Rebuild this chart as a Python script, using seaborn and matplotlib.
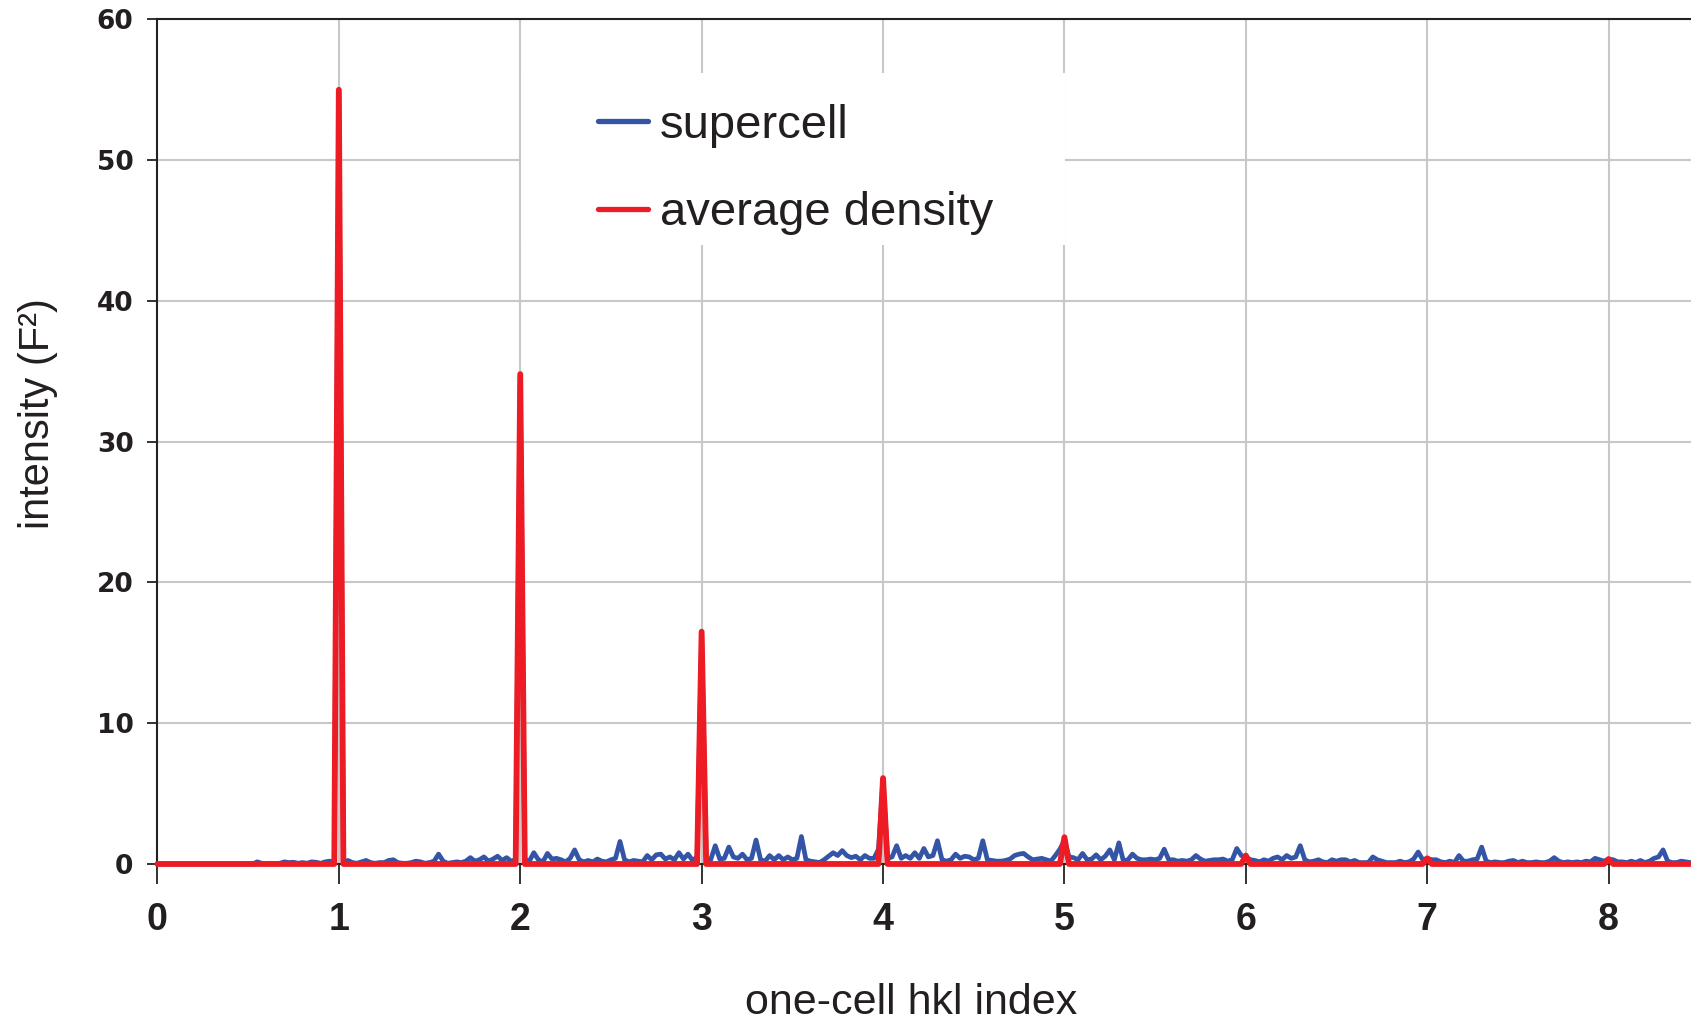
import numpy as np
import pandas as pd
import matplotlib
matplotlib.use("Agg")
import matplotlib.pyplot as plt
from matplotlib.patches import Rectangle
from matplotlib.lines import Line2D
import seaborn as sns

# ---------------- data ----------------
SAMPLES_PER_CELL = 40  # supercell sampling along the one-cell hkl index

# supercell intensity, one list per one-cell interval [n, n+1)
sc_0 = [0, 0, 0, 0, 0, 0, 0, 0, 0, 0, 0, 0, 0, 0, 0, 0, 0, 0, 0, 0,
        0, 0, 0.15, 0.05, 0, 0.05, 0, 0.05, 0.15, 0.1, 0.12, 0.05, 0.1, 0.05, 0.15, 0.12, 0.05, 0.15, 0.2, 0.1]
sc_1 = [54.8, 0.1, 0.25, 0.1, 0.05, 0.15, 0.25, 0.1, 0.05, 0.1,
        0.1, 0.25, 0.3, 0.1, 0.05, 0.05, 0.1, 0.2, 0.15, 0.05,
        0.1, 0.2, 0.7, 0.2, 0.05, 0.1, 0.15, 0.1, 0.2, 0.45,
        0.2, 0.3, 0.5, 0.2, 0.35, 0.55, 0.25, 0.45, 0.2, 0.3]
sc_2 = [34.5, 0.3, 0.2, 0.8, 0.3, 0.15, 0.75, 0.35, 0.4, 0.3,
        0.15, 0.4, 1.0, 0.3, 0.15, 0.25, 0.15, 0.35, 0.2, 0.15,
        0.3, 0.4, 1.6, 0.3, 0.15, 0.25, 0.2, 0.15, 0.6, 0.3,
        0.65, 0.7, 0.35, 0.5, 0.3, 0.8, 0.35, 0.7, 0.25, 0.5]
sc_3 = [16.3, 0.4, 0.3, 1.3, 0.35, 0.4, 1.2, 0.5, 0.4, 0.7,
        0.3, 0.4, 1.7, 0.3, 0.2, 0.6, 0.3, 0.6, 0.3, 0.5,
        0.3, 0.4, 1.95, 0.3, 0.2, 0.15, 0.1, 0.3, 0.55, 0.8,
        0.6, 0.95, 0.6, 0.45, 0.55, 0.3, 0.6, 0.4, 0.4, 1.05]
sc_4 = [6.0, 0.4, 0.5, 1.3, 0.4, 0.6, 0.4, 0.8, 0.4, 1.1,
        0.5, 0.6, 1.65, 0.3, 0.2, 0.3, 0.7, 0.4, 0.55, 0.5,
        0.3, 0.4, 1.65, 0.3, 0.25, 0.2, 0.2, 0.25, 0.35, 0.6,
        0.7, 0.75, 0.5, 0.3, 0.35, 0.4, 0.3, 0.2, 0.6, 1.05]
sc_5 = [1.7, 0.5, 0.45, 0.3, 0.75, 0.3, 0.35, 0.65, 0.3, 0.55,
        1.0, 0.3, 1.5, 0.2, 0.3, 0.7, 0.4, 0.3, 0.3, 0.35,
        0.3, 0.4, 1.05, 0.3, 0.3, 0.2, 0.25, 0.2, 0.3, 0.6,
        0.35, 0.2, 0.25, 0.3, 0.3, 0.35, 0.2, 0.3, 1.1, 0.6]
sc_6 = [0.5, 0.3, 0.25, 0.15, 0.3, 0.2, 0.4, 0.5, 0.3, 0.6,
        0.4, 0.5, 1.3, 0.3, 0.15, 0.2, 0.3, 0.15, 0.1, 0.3,
        0.2, 0.3, 0.3, 0.15, 0.25, 0.1, 0.1, 0.1, 0.5, 0.3,
        0.2, 0.1, 0.1, 0.1, 0.2, 0.1, 0.15, 0.35, 0.85, 0.3]
sc_7 = [0.4, 0.3, 0.3, 0.15, 0.1, 0.2, 0.1, 0.6, 0.2, 0.2,
        0.3, 0.35, 1.2, 0.2, 0.1, 0.15, 0.1, 0.1, 0.2, 0.25,
        0.1, 0.2, 0.1, 0.1, 0.15, 0.1, 0.1, 0.2, 0.45, 0.2,
        0.1, 0.15, 0.1, 0.15, 0.1, 0.2, 0.15, 0.4, 0.3, 0.2]
sc_8 = [0.35, 0.3, 0.15, 0.15, 0.1, 0.2, 0.1, 0.25, 0.1, 0.2,
        0.4, 0.5, 1.0, 0.2, 0.1, 0.1, 0.2, 0.15, 0.1]

# average-density structure: intensity only at the integer (Bragg) positions
bragg_h = [0, 1, 2, 3, 4, 5, 6, 7, 8]
bragg_I = [0.0, 55.0, 34.8, 16.5, 6.1, 1.9, 0.6, 0.4, 0.35]

series_names = ["supercell", "average density"]
x_ticks = [0, 1, 2, 3, 4, 5, 6, 7, 8]
y_ticks = [0, 10, 20, 30, 40, 50, 60]

# ---------------- build table ----------------
supercell = np.array(sc_0 + sc_1 + sc_2 + sc_3 + sc_4 + sc_5 + sc_6 + sc_7 + sc_8, dtype=float)
n = len(supercell)
h = np.arange(n) / SAMPLES_PER_CELL
avg = np.zeros(n)
avg[np.array(bragg_h) * SAMPLES_PER_CELL] = bragg_I

df = pd.DataFrame({
    "h": np.concatenate([h, h]),
    "I": np.concatenate([supercell, avg]),
    "series": [series_names[0]] * n + [series_names[1]] * n,
})

BLUE = "#3454A6"
RED = "#ED1C24"

# ---------------- style ----------------
sns.set_style("white")
plt.rcParams["font.family"] = ["Liberation Sans", "DejaVu Sans"]

fig = plt.figure(figsize=(16.91, 10.21), dpi=100)
ax = fig.add_axes([0.0931, 0.1538, 0.9069, 0.8272])

sns.lineplot(data=df[df["series"] == "supercell"], x="h", y="I", color=BLUE,
             linewidth=3.4, estimator=None, sort=False, ax=ax, zorder=3)
sns.lineplot(data=df[df["series"] == "average density"], x="h", y="I", color=RED,
             linewidth=4.2, estimator=None, sort=False, ax=ax, zorder=4)
for ln in ax.lines:
    ln.set_clip_on(False)
    ln.set_solid_joinstyle("round")

ax.set_xlim(0, 8.454)
ax.set_ylim(0, 60)
ax.set_xticks(x_ticks)
ax.set_yticks(y_ticks)
ax.set_xlabel("")
ax.set_ylabel("")

ax.grid(True, color="#C8C8C8", linewidth=1.5)
ax.set_axisbelow(True)

ax.spines["right"].set_visible(False)
for s in ["top", "left", "bottom"]:
    ax.spines[s].set_color("#222222")
    ax.spines[s].set_linewidth(1.5)

ax.tick_params(axis="x", direction="out", length=14.4, width=1.3, color="#222222",
               pad=13, labelsize=27, bottom=True)
ax.tick_params(axis="y", direction="out", length=7.2, width=1.3, color="#222222",
               pad=10, labelsize=19, left=True)
for lbl in ax.get_xticklabels():
    lbl.set_fontweight("bold")
    lbl.set_color("#231F20")
for lbl in ax.get_yticklabels():
    lbl.set_fontfamily(["DejaVu Sans"])
    lbl.set_fontweight("heavy")
    lbl.set_color("#231F20")

# white legend box covering the gridlines
ax.add_patch(Rectangle((0.237, 0.733), 0.355, 0.2037, transform=ax.transAxes,
                       facecolor="white", edgecolor="none", zorder=1.5))

handles = [Line2D([], [], color=BLUE, linewidth=3.8, solid_capstyle="round"),
           Line2D([], [], color=RED, linewidth=3.8, solid_capstyle="round")]
leg = ax.legend(handles, series_names, loc="upper left", bbox_to_anchor=(0.2873, 0.900),
                frameon=False, fontsize=34, handlelength=1.05, handletextpad=0.26,
                labelspacing=0.92, borderpad=0, borderaxespad=0)
for t in leg.get_texts():
    t.set_color("#231F20")

fig.text(0.0223, 0.5945, "intensity (F²)", rotation=90, ha="center", va="center",
         fontsize=30, color="#231F20")
fig.text(0.5387, 0.0071, "one-cell hkl index", ha="center", va="baseline",
         fontsize=31, color="#231F20")

fig.savefig("out.png", dpi=100)
